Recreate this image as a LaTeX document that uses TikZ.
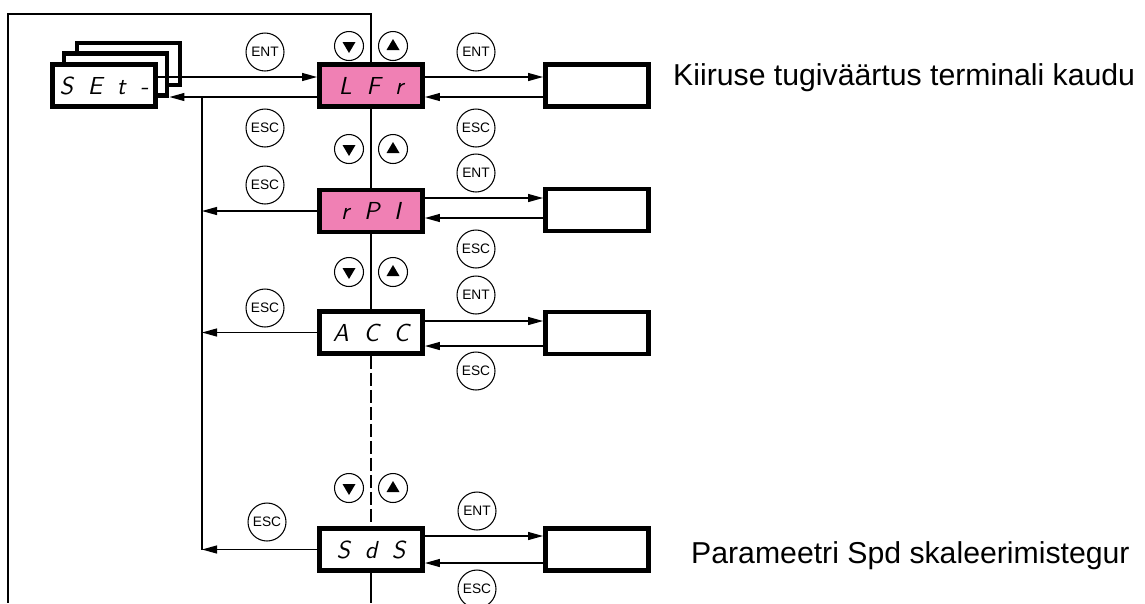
\documentclass[tikz,border=0pt]{standalone}
\usepackage{fontspec}
\setmainfont{Liberation Sans}
\usetikzlibrary{arrows.meta}
\usetikzlibrary{calc}

\definecolor{disppink}{RGB}{240,128,180}
\newcommand{\gap}{\hspace{.6em}}

\begin{document}
\begin{tikzpicture}[x = 0.02cm, y = -0.02cm,
  display/.style = {draw, fill = white, line width = 2.8pt, minimum width = 20.6mm,
    minimum height = 8.4mm, inner sep = 0pt,
    font = \sffamily\slshape\fontsize{14}{14}\selectfont},
  key/.style = {draw, circle, line width = 0.6pt, minimum size = 7.6mm,
    inner sep = 0pt, font = \fontsize{7.8}{8}\selectfont},
  updown/.style = {draw, circle, line width = 0.6pt, minimum size = 5.8mm},
  wire/.style = {line width = 0.7pt},
  arr/.style = {wire, -{Triangle[length = 3mm, width = 1.6mm]}},
  caption/.style = {anchor = west, font = \fontsize{17.2}{20}\selectfont}]

  \useasboundingbox (0, 0) rectangle (1145, 603);

  \node[display] (set3) at (128.5, 64) {};
  \node[display] (set2) at (115.5, 74.5) {};
  \node[display] (set) at (104, 85.5) {S\gap E\gap t\gap -};

  \node[display, fill = disppink] (lfr) at (371, 85.5) {L\gap F\gap r};
  \node[display, fill = disppink] (rpi) at (371, 211) {r\gap P\gap I};
  \node[display] (acc) at (371, 332.5) {A\gap C\gap C};
  \node[display] (sds) at (371, 549.5) {S\gap d\gap S};

  \node[display] (lfrv) at (597, 85.5) {};
  \node[display] (rpiv) at (597, 210) {};
  \node[display] (accv) at (597, 333) {};
  \node[display] (sdsv) at (597, 549.5) {};

  \coordinate (corner) at (8, 14);
  \coordinate (bus) at (202, 97);

  \draw[wire] (lfr.north) -- (lfr.north |- corner) -- (corner) -- (corner |- 0, 603);
  \draw[wire] (lfr.south) -- (rpi.north);
  \draw[wire] (rpi.south) -- (acc.north);
  \draw[wire, dash pattern = on 2.6mm off 0.8mm] (acc.south) -- (sds.north);
  \draw[wire] (sds.south) -- (sds.south |- 0, 603);

  \draw[arr] (set.east |- 0, 77) -- (lfr.west |- 0, 77);
  \draw[arr] (lfr.west |- bus) -- (set2.east |- bus);
  \draw[wire] (bus) -- (bus |- sds.west);
  \draw[arr] (rpi.west) -- (bus |- rpi.west);
  \draw[arr] (acc.west) -- (bus |- acc.west);
  \draw[arr] (sds.west) -- (bus |- sds.west);

  \draw[arr] (lfr.east |- 0, 77) -- (lfrv.west |- 0, 77);
  \draw[arr] (lfrv.west |- 0, 97) -- (lfr.east |- 0, 97);
  \draw[arr] (rpi.east |- 0, 198) -- (rpiv.west |- 0, 198);
  \draw[arr] (rpiv.west |- 0, 218) -- (rpi.east |- 0, 218);
  \draw[arr] (acc.east |- 0, 321) -- (accv.west |- 0, 321);
  \draw[arr] (accv.west |- 0, 346) -- (acc.east |- 0, 346);
  \draw[arr] (sds.east |- 0, 536) -- (sdsv.west |- 0, 536);
  \draw[arr] (sdsv.west |- 0, 563) -- (sds.east |- 0, 563);

  \foreach \x/\y/\t/\n in {265/52/ENT/ent0, 265/128/ESC/esc0, 265/185/ESC/esc1,
    265/308/ESC/esc2, 267/522/ESC/esc3, 476/52/ENT/ent1, 476/128/ESC/esc4,
    476/173/ENT/ent2, 476/249/ESC/esc5, 476/295/ENT/ent3, 476/371/ESC/esc6,
    477/511/ENT/ent4, 477/589/ESC/esc7}
    \node[key] (\n) at (\x, \y) {\t};

  \foreach \y/\n in {46/a, 149/b, 272/c, 488/d} {
    \node[updown] (dn\n) at (349, \y) {};
    \node[updown] (up\n) at (393, \y) {};
    \fill ($(dn\n) + (-6.5, -4)$) -- ($(dn\n) + (6.5, -4)$) -- ($(dn\n) + (0, 7)$) -- cycle;
    \fill ($(up\n) + (-6.5, 4)$) -- ($(up\n) + (6.5, 4)$) -- ($(up\n) + (0, -7)$) -- cycle;
  }

  \node[caption] (speedref) at (667, 78) {Kiiruse tugiväärtus terminali kaudu};
  \node[caption] (spdscale) at (685, 556) {Parameetri Spd skaleerimistegur};
\end{tikzpicture}
\end{document}
